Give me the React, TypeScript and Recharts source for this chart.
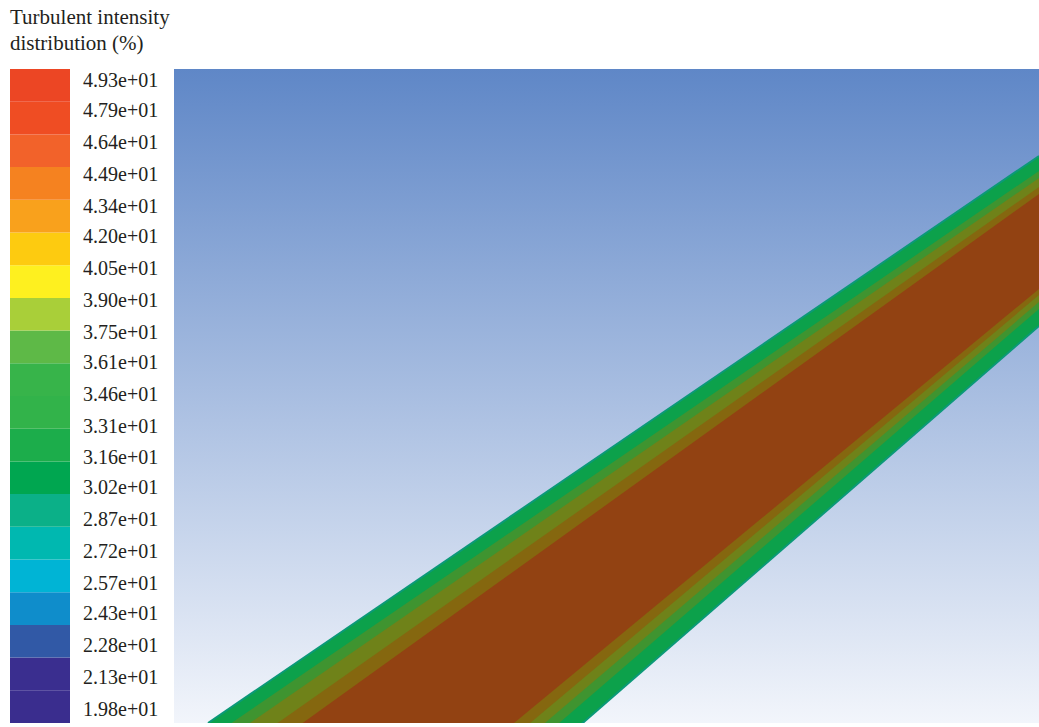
import {
  ComposedChart,
  Area,
  XAxis,
  YAxis,
  CartesianGrid,
  BarChart,
  Bar,
} from 'recharts';

// colour scale, top block first
const scaleColors = [
  '#ec4624', '#ef4d23', '#f2622a', '#f58220', '#f9a11c',
  '#fdcb10', '#fef01f', '#a9cf39', '#5eb947', '#37b44a',
  '#32b34a', '#1cad4b', '#00a650', '#0bb088', '#00b8b0',
  '#00b4d5', '#0f8dcb', '#3159a6', '#3a2e8f', '#3a2d8e',
];

// scale labels, top first
const scaleLabels = [
  '4.93e+01', '4.79e+01', '4.64e+01', '4.49e+01', '4.34e+01',
  '4.20e+01', '4.05e+01', '3.90e+01', '3.75e+01', '3.61e+01',
  '3.46e+01', '3.31e+01', '3.16e+01', '3.02e+01', '2.87e+01',
  '2.72e+01', '2.57e+01', '2.43e+01', '2.28e+01', '2.13e+01',
  '1.98e+01',
];

// band section positions along the view (left end, right end)
const stationX = [34, 865];
// [lower, upper] of each contour layer, outermost first
const wallLayer = [[-326, 0], [397, 567]];
const nearWallLayer = [[-303, -16], [414, 552]];
const midLayer = [[-287, -29], [421, 545]];
const transitionLayer = [[-271, -49], [428, 536]];
const coreLayer = [[-253, -68], [434, 529]];

const layerFills = ['#0ca14b', '#3f9430', '#6f8219', '#85670f', '#924212'];

const bandData = stationX.map((x, i) => ({
  x,
  wall: wallLayer[i],
  nearWall: nearWallLayer[i],
  mid: midLayer[i],
  transition: transitionLayer[i],
  core: coreLayer[i],
}));

const scaleRow: Record<string, string | number> = { name: 'scale' };
const bottomUp = [...scaleColors].reverse();
bottomUp.forEach((_, i) => {
  scaleRow[`b${i}`] = 1;
});

const labelTicks = scaleLabels.map(s => parseFloat(s));

const FONT = '"Liberation Serif", "Times New Roman", serif';
const TEXT = '#231f20';

export default function App() {
  const layerKeys = ['wall', 'nearWall', 'mid', 'transition', 'core'];
  return (
    <div style={{ position: 'absolute', left: 0, top: 0, width: 1039, height: 727, background: '#fff' }}>
      <div
        style={{
          position: 'absolute',
          left: 10,
          top: 4,
          fontFamily: FONT,
          fontSize: 21,
          lineHeight: '26px',
          color: TEXT,
        }}
      >
        Turbulent intensity
        <br />
        distribution (%)
      </div>

      <div style={{ position: 'absolute', left: 0, top: 0 }}>
        <ComposedChart
          width={1039}
          height={727}
          data={bandData}
          margin={{ top: 69, right: 0, left: 174, bottom: 4 }}
        >
          <defs>
            <linearGradient id="sky" x1="0" y1="0" x2="0" y2="1">
              <stop offset="0%" stopColor="#5f87c7" />
              <stop offset="100%" stopColor="#f2f5fb" />
            </linearGradient>
          </defs>
          <CartesianGrid horizontal={false} vertical={false} fill="url(#sky)" fillOpacity={1} />
          <XAxis type="number" dataKey="x" domain={[0, 865]} allowDataOverflow hide />
          <YAxis type="number" domain={[0, 654]} allowDataOverflow hide />
          {layerKeys.map((k, i) => (
            <Area
              key={k}
              type="linear"
              dataKey={k}
              fill={layerFills[i]}
              fillOpacity={1}
              stroke={i === 0 ? '#0b9978' : layerFills[i]}
              strokeWidth={i === 0 ? 2 : 0}
              dot={false}
              activeDot={false}
              isAnimationActive={false}
            />
          ))}
        </ComposedChart>
      </div>

      <div style={{ position: 'absolute', left: 0, top: 0 }}>
        <BarChart
          width={174}
          height={727}
          data={[scaleRow]}
          margin={{ top: 69, right: 4, left: 10, bottom: 4 }}
          barCategoryGap={0}
          barGap={0}
        >
          <XAxis dataKey="name" hide />
          <YAxis yAxisId="blocks" type="number" domain={[0, 20]} hide />
          <YAxis
            yAxisId="labels"
            orientation="right"
            type="number"
            domain={[19.14, 49.82]}
            allowDataOverflow
            ticks={labelTicks}
            interval={0}
            width={100}
            axisLine={false}
            tickLine={false}
            tickSize={6}
            tickMargin={7}
            tickFormatter={(v: number) => scaleLabels[labelTicks.indexOf(v)] ?? String(v)}
            tick={{ fontFamily: FONT, fontSize: 20, fill: TEXT, textAnchor: 'start' }}
          />
          {bottomUp.map((c, i) => (
            <Bar
              key={i}
              yAxisId="blocks"
              dataKey={`b${i}`}
              stackId="scale"
              fill={c}
              isAnimationActive={false}
            />
          ))}
        </BarChart>
      </div>
    </div>
  );
}
